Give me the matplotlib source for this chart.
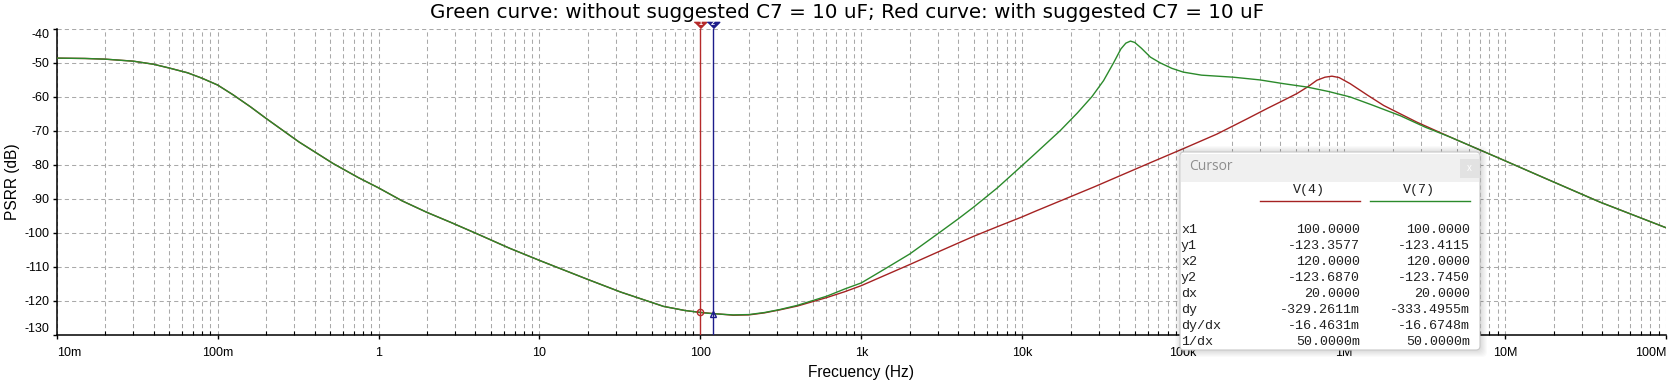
import matplotlib
matplotlib.use("Agg")
import matplotlib.pyplot as plt
import matplotlib.transforms as mtransforms
from matplotlib.patches import FancyBboxPatch, Rectangle
from matplotlib.lines import Line2D
from matplotlib.ticker import FixedLocator, LogLocator, NullFormatter

# ---------------- data ----------------
title = "Green curve: without suggested C7 = 10 uF; Red curve: with suggested C7 = 10 uF"
xlabel = "Frecuency (Hz)"
ylabel = "PSRR (dB)"

xtick_values = [1e-2, 1e-1, 1, 10, 100, 1e3, 1e4, 1e5, 1e6, 1e7, 1e8]
xtick_labels = ["10m", "100m", "1", "10", "100", "1k", "10k", "100k", "1M", "10M", "100M"]
ytick_values = [-130, -120, -110, -100, -90, -80, -70, -60, -50, -40]

# V(7) green: without C7
green_freq = [0.01, 0.015, 0.02, 0.03, 0.04, 0.05, 0.065, 0.08, 0.1, 0.125, 0.16, 0.2,
              0.32, 0.52, 0.75, 1.0, 1.4, 2.0, 2.8, 4.1, 6.5, 10, 20, 32, 59, 80, 100,
              120, 160, 200, 250, 313, 400, 610, 787, 1000, 1400, 2000, 3000, 4000,
              5000, 7000, 10000, 12000, 17200, 22000, 27100, 32000, 37000, 41000, 44000,
              47000, 50000, 55000, 62500, 72000, 85000, 1e5, 1.3e5, 2.05e5, 3e5, 4.2e5,
              5.9e5, 8e5, 1.09e6, 1.5e6, 2.23e6, 3.2e6, 4.57e6, 9.3e6, 1.9e7, 3.9e7, 1e8]
green_db = [-48.7, -48.8, -49.0, -49.6, -50.5, -51.6, -53.0, -54.6, -56.6, -59.5, -63.0, -66.4,
            -73.3, -79.6, -83.8, -86.8, -90.6, -94.0, -96.9, -100.3, -104.5, -108.1, -113.7,
            -117.4, -121.6, -122.8, -123.4, -123.75, -124.1, -124.0, -123.4, -122.5, -121.3,
            -118.6, -116.5, -114.7, -110.6, -106.2, -100.2, -95.9, -92.4, -86.8, -80.2, -76.8,
            -70.0, -64.8, -60.0, -55.3, -50.0, -46.0, -44.3, -43.7, -44.1, -45.8, -48.4, -50.1,
            -51.7, -52.8, -53.7, -54.3, -55.1, -56.2, -57.2, -58.5, -60.1, -62.5, -65.6, -69.0,
            -71.9, -78.2, -84.6, -91.0, -98.5]

# V(4) red: with C7
red_freq = [0.01, 0.015, 0.02, 0.03, 0.04, 0.05, 0.065, 0.08, 0.1, 0.125, 0.16, 0.2,
            0.32, 0.52, 0.75, 1.0, 1.4, 2.0, 2.8, 4.1, 6.5, 10, 20, 32, 59, 80, 100,
            120, 160, 200, 250, 313, 400, 610, 787, 1000, 2000, 3000, 4000, 5000, 7000,
            10000, 12000, 28000, 62500, 1e5, 1.62e5, 2.5e5, 3.32e5, 4.2e5, 5.09e5, 6e5,
            6.77e5, 7.6e5, 8.4e5, 9.3e5, 1.09e6, 1.4e6, 1.76e6, 2.83e6, 4.57e6, 9.3e6,
            1.9e7, 3.9e7, 1e8]
red_db = [-48.7, -48.8, -49.0, -49.6, -50.5, -51.6, -53.0, -54.6, -56.6, -59.5, -63.0, -66.4,
          -73.3, -79.6, -83.8, -86.8, -90.6, -94.0, -96.9, -100.3, -104.5, -108.1, -113.7,
          -117.4, -121.6, -122.8, -123.36, -123.69, -124.2, -124.1, -123.5, -122.6, -121.5,
          -119.0, -117.3, -115.5, -109.3, -105.6, -103.0, -101.0, -98.2, -95.3, -93.7, -86.5,
          -79.4, -75.3, -71.0, -66.5, -63.5, -61.1, -59.1, -57.0, -55.2, -54.3, -54.0, -54.4,
          -56.2, -59.6, -62.6, -67.5, -71.9, -78.2, -84.6, -91.0, -98.5]

# cursor readout
cursor_x = [100.0, 120.0]
cursor_y = [-123.3577, -123.6870]
cursor_rows = ["x1", "y1", "x2", "y2", "dx", "dy", "dy/dx", "1/dx"]
cursor_v4 = ["100.0000", "-123.3577", "120.0000", "-123.6870", "20.0000",
             "-329.2611m", "-16.4631m", "50.0000m"]
cursor_v7 = ["100.0000", "-123.4115", "120.0000", "-123.7450", "20.0000",
             "-333.4955m", "-16.6748m", "50.0000m"]
trace_names = ["V(4)", "V(7)"]

# ---------------- style ----------------
W, H = 1668, 386
GREEN = "#2b8a2b"
RED = "#a52222"
CUR1 = "#b52a2a"
CUR2 = "#1c1c8a"
GRID = "#a9a9a9"
SANS = ["Liberation Sans", "DejaVu Sans"]
MONO = ["Liberation Mono", "DejaVu Sans Mono"]
plt.rcParams["font.family"] = SANS

fig = plt.figure(figsize=(W / 100, H / 100), dpi=100)
ax_l, ax_r, ax_t, ax_b = 56.7, 1666.0, 28.5, 335.0
ax = fig.add_axes([ax_l / W, 1 - ax_b / H, (ax_r - ax_l) / W, (ax_b - ax_t) / H])

ax.set_xscale("log")
ax.set_xlim(xtick_values[0], xtick_values[-1])
ax.set_ylim(ytick_values[0], ytick_values[-1])

ax.xaxis.set_major_locator(FixedLocator(xtick_values))
ax.set_xticks(xtick_values, xtick_labels)
ax.xaxis.set_minor_locator(LogLocator(base=10, subs=range(2, 10), numticks=100))
ax.xaxis.set_minor_formatter(NullFormatter())
ax.set_yticks(ytick_values, [str(v) for v in ytick_values])

ax.grid(which="both", axis="x", color=GRID, ls=(0, (4, 3)), lw=0.75)
ax.grid(which="major", axis="y", color=GRID, ls=(0, (4, 3)), lw=0.75)
ax.set_axisbelow(True)

for s in ["top", "right"]:
    ax.spines[s].set_visible(False)
for s in ["left", "bottom"]:
    ax.spines[s].set_color("black")
    ax.spines[s].set_linewidth(1.1)

ax.tick_params(which="major", axis="x", direction="out", length=3, width=1, labelsize=9, pad=6)
ax.tick_params(which="minor", axis="x", direction="in", length=3, width=0.8)
ax.tick_params(which="major", axis="y", direction="out", length=3, width=1, labelsize=9, pad=2)

xl = ax.get_xticklabels()
xl[0].set_ha("left")
xl[-1].set_ha("right")
yl = ax.get_yticklabels()
yl[0].set_va("bottom")
yl[-1].set_va("top")

# curves
ax.plot(red_freq, red_db, color=RED, lw=1.0, zorder=3)
ax.plot(green_freq, green_db, color=GREEN, lw=1.0, zorder=4)

# cursors
ax.axvline(cursor_x[0], color=CUR1, lw=1.0, zorder=5)
ax.axvline(cursor_x[1], color=CUR2, lw=1.0, zorder=5)
ax.plot([cursor_x[0]], [cursor_y[0]], marker="o", ms=4.5, mfc="none", mec=CUR1, mew=1, zorder=6)
ax.plot([cursor_x[1]], [cursor_y[1]], marker="^", ms=5, mfc="none", mec=CUR2, mew=1, zorder=6)

tri = [(-1, 0.5), (1, 0.5), (0, -0.5)]
top_tr = mtransforms.offset_copy(ax.get_xaxis_transform(), fig=fig, x=0, y=4, units="dots")
for i, (cx, col) in enumerate([(cursor_x[0], CUR1), (cursor_x[1], CUR2)]):
    ax.plot([cx], [1.0], marker=tri, ms=9, color=col, transform=top_tr, clip_on=False, zorder=7)
    ax.text(cx, 1.0, str(i + 1), transform=mtransforms.offset_copy(ax.get_xaxis_transform(), fig=fig, y=5, units="dots"),
            ha="center", va="center", fontsize=5, color="white", fontweight="bold", zorder=8, clip_on=False)

# labels
fig.text(847 / W, 1 - 12 / H, title, ha="center", va="center", fontsize=14.3,
         family=["DejaVu Sans"])
ax.set_xlabel(xlabel, fontsize=11.2)
ax.xaxis.set_label_coords(0.5, (ax_b - 372) / (ax_b - ax_t))
ax.xaxis.label.set_va("center")
ax.set_ylabel(ylabel, fontsize=11.2)
ax.yaxis.set_label_coords((12 - ax_l) / (ax_r - ax_l), 0.5)
ax.yaxis.label.set_va("center")

# ---------------- cursor window ----------------
tr = fig.dpi_scale_trans


def P(xp, yp):
    return xp / 100.0, (H - yp) / 100.0


bx0, by0, bx1, by1 = 1180, 152, 1480, 350
for k in range(1, 8):
    x0, y0 = P(bx0 - k + 2, by1 + k)
    sh = FancyBboxPatch((x0, y0), (bx1 - bx0 + 2 * k - 2) / 100, (by1 - by0 + 2 * k - 1) / 100,
                        boxstyle="round,pad=0,rounding_size=0.05", transform=tr,
                        fc="black", ec="none", alpha=0.018, zorder=4)
    fig.add_artist(sh)
x0, y0 = P(bx0, by1)
box = FancyBboxPatch((x0, y0), (bx1 - bx0) / 100, (by1 - by0) / 100,
                     boxstyle="round,pad=0,rounding_size=0.04", transform=tr,
                     fc="white", ec="#c9c9c9", lw=0.8, zorder=5)
fig.add_artist(box)
x0, y0 = P(bx0 + 1, 182)
fig.add_artist(Rectangle((x0, y0), (bx1 - bx0 - 2) / 100, (182 - by0 - 2) / 100, transform=tr,
                         fc="#f0f0f0", ec="none", zorder=6))
fig.text(*P(1189, 167), "Cursor", transform=tr, ha="left", va="center", fontsize=10,
         color="#8e8e8e", zorder=7, family=["Open Sans", "DejaVu Sans"])
x0, y0 = P(1460, 178)
fig.add_artist(Rectangle((x0, y0), 0.19, 0.19, transform=tr, fc="#e2e2e2", ec="none", zorder=7))
fig.text(*P(1469.5, 168), "x", transform=tr, ha="center", va="center", fontsize=7,
         color="white", zorder=8)

col_right = [1360, 1470]
col_colors = [RED, GREEN]
for name, xr, c in zip(trace_names, col_right, col_colors):
    fig.text(*P(xr - 51, 190), name, transform=tr, ha="center", va="center", fontsize=9.6,
             family=MONO, zorder=8, color="#202020")
    fig.add_artist(Line2D([(xr - 100) / 100, xr / 100], [(H - 201) / 100] * 2, transform=tr,
                          color=c, lw=1.0, zorder=8))

for i, (lab, a, b) in enumerate(zip(cursor_rows, cursor_v4, cursor_v7)):
    yp = 230 + 16 * i
    fig.text(*P(1181, yp), lab, transform=tr, ha="left", va="center", fontsize=9.6,
             family=MONO, zorder=8, color="#202020")
    fig.text(*P(col_right[0], yp), a, transform=tr, ha="right", va="center", fontsize=9.6,
             family=MONO, zorder=8, color="#202020")
    fig.text(*P(col_right[1], yp), b, transform=tr, ha="right", va="center", fontsize=9.6,
             family=MONO, zorder=8, color="#202020")

fig.savefig("out.png", dpi=100)
